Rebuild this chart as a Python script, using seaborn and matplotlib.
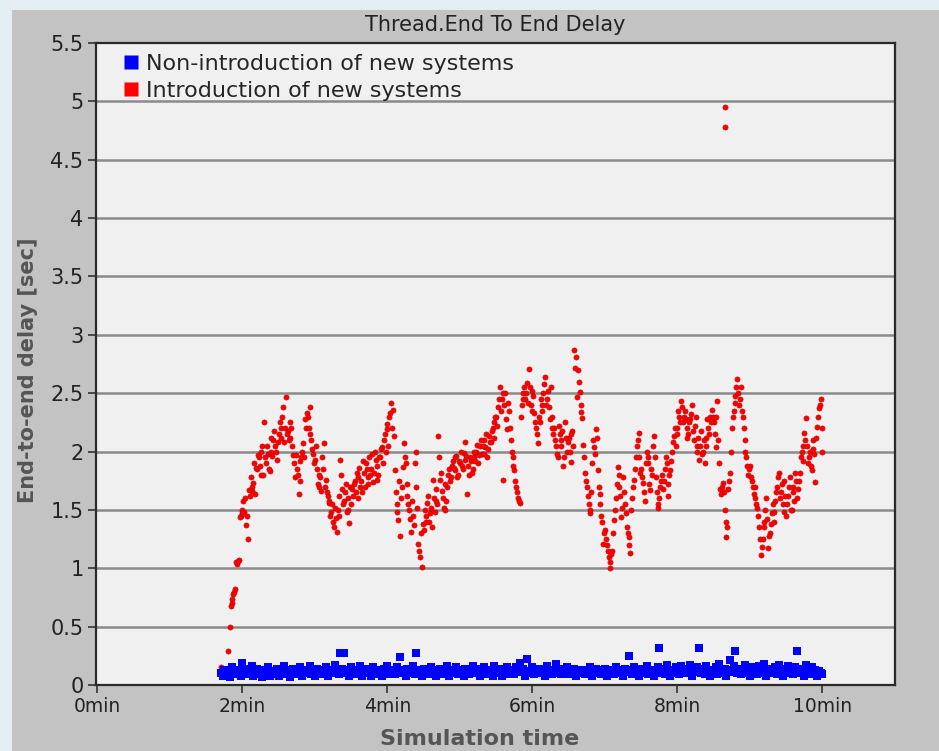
import matplotlib
matplotlib.use("Agg")
import matplotlib.pyplot as plt
from matplotlib.lines import Line2D
from matplotlib.patches import Rectangle
import numpy as np
import pandas as pd
import seaborn as sns

# sampling of the simulation trace (minutes)
sample_start = 1.70
sample_step = 0.025

# End-to-end delay [sec], introduction of new systems
red_delay = [
    0.15, 0.12, 0.12, 0.13, 0.29, 0.50, 0.70, 0.78,
    0.82, 1.04, 1.07, 1.45, 1.50, 1.48, 1.37, 1.25,
    1.62, 1.66, 1.73, 1.64, 1.85, 1.95, 1.80, 2.05,
    2.25, 1.90, 1.98, 1.83, 2.00, 2.10, 2.05, 1.93,
    2.15, 2.20, 2.30, 2.08, 2.47, 2.18, 2.12, 2.20,
    1.97, 1.78, 1.85, 1.64, 1.92, 2.00, 1.95, 2.20,
    2.30, 2.38, 2.10, 1.98, 1.93, 1.85, 1.70, 1.78,
    1.95, 2.07, 1.76, 1.62, 1.56, 1.48, 1.40, 1.52,
    1.31, 1.45, 1.93, 1.68, 1.58, 1.72, 1.50, 1.39,
    1.55, 1.62, 1.75, 1.82, 1.60, 1.70, 1.65, 1.82,
    1.90, 1.78, 1.95, 1.85, 1.74, 2.00, 1.88, 1.80,
    1.95, 2.04, 2.10, 2.00, 2.19, 2.30, 2.42, 2.36,
    1.84, 1.55, 1.41, 1.28, 1.70, 2.07, 1.90, 1.62,
    1.50, 1.31, 1.45, 1.90, 2.00, 1.21, 1.10, 1.01,
    1.33, 1.45, 1.56, 1.40, 1.52, 1.76, 1.48, 1.58,
    2.13, 1.76, 1.66, 1.52, 1.50, 1.70, 1.85, 1.78,
    1.92, 1.84, 1.96, 1.80, 1.90, 1.88, 1.99, 2.08,
    1.64, 1.80, 1.92, 1.85, 1.95, 2.00, 1.90, 2.05,
    1.98, 2.10, 2.04, 1.95, 2.13, 2.08, 2.20, 2.25,
    2.30, 2.38, 2.55, 2.45, 1.76, 2.50, 2.19, 2.35,
    2.10, 1.95, 1.84, 1.70, 1.60, 1.56, 2.40, 2.50,
    2.45, 2.59, 2.71, 2.40, 2.52, 2.33, 2.20, 2.07,
    2.25, 2.40, 2.50, 2.64, 2.45, 2.38, 2.55, 2.30,
    2.20, 2.05, 1.95, 2.15, 2.10, 1.88, 2.25, 2.00,
    2.12, 1.91, 2.18, 2.87, 2.81, 2.70, 2.51, 2.34,
    2.06, 1.82, 1.70, 1.55, 1.47, 1.90, 2.04, 2.19,
    1.84, 1.64, 1.45, 1.21, 1.33, 1.20, 1.10, 1.00,
    1.15, 1.41, 1.60, 1.87, 1.70, 1.44, 1.78, 1.55,
    1.35, 1.27, 1.13, 1.60, 1.76, 1.95, 2.10, 2.16,
    1.85, 1.73, 1.58, 2.00, 1.90, 1.67, 1.80, 2.13,
    1.78, 1.52, 1.60, 1.75, 1.68, 1.85, 1.90, 1.62,
    1.84, 2.00, 2.13, 2.05, 2.20, 2.30, 2.43, 2.25,
    2.35, 2.20, 2.15, 2.28, 2.40, 2.10, 2.30, 2.05,
    1.93, 2.18, 2.00, 1.90, 2.12, 2.20, 2.30, 2.36,
    2.25, 2.04, 2.43, 1.90, 1.64, 1.73, 1.50, 1.27,
    1.68, 1.82, 2.20, 2.35, 2.48, 2.62, 2.40, 2.55,
    2.30, 2.10, 1.95, 1.80, 1.88, 1.75, 1.64, 1.70,
    1.52, 1.35, 1.11, 1.25, 1.40, 1.60, 1.17, 1.30,
    1.47, 1.40, 1.58, 1.70, 1.82, 1.65, 1.55, 1.75,
    1.45, 1.62, 1.78, 1.50, 1.70, 1.82, 1.60, 1.75,
    1.95, 2.05, 2.16, 2.29, 1.90, 2.00, 1.84, 2.10,
    1.74, 2.21, 2.37, 2.45, 2.00,
]
# second trace of the same run, sampled half a step later
red_delay_mid = [
    0.13, 0.12, 0.14, 0.12, 0.14, 0.68, 0.74, 0.80,
    1.05, 1.06, 1.44, 1.47, 1.58, 1.60, 1.45, 1.67,
    1.78, 1.70, 1.90, 1.86, 1.97, 1.88, 2.00, 1.80,
    1.95, 2.05, 1.85, 2.12, 1.96, 2.18, 2.00, 2.08,
    2.25, 2.12, 2.38, 2.20, 2.15, 2.10, 2.25, 2.05,
    1.90, 1.97, 1.80, 1.75, 1.95, 2.07, 2.28, 2.33,
    2.20, 2.15, 2.02, 1.90, 2.05, 1.72, 1.80, 1.66,
    1.85, 1.70, 1.65, 1.58, 1.45, 1.55, 1.35, 1.43,
    1.50, 1.62, 1.80, 1.55, 1.65, 1.48, 1.60, 1.70,
    1.68, 1.72, 1.65, 1.78, 1.86, 1.75, 1.92, 1.70,
    1.85, 1.72, 1.80, 1.98, 1.82, 1.93, 1.76, 1.95,
    2.02, 1.90, 2.15, 2.24, 2.05, 2.33, 2.20, 2.13,
    1.65, 1.48, 1.75, 1.60, 1.87, 1.95, 1.72, 1.55,
    1.42, 1.58, 1.37, 1.70, 1.52, 1.15, 1.30, 1.38,
    1.50, 1.40, 1.62, 1.47, 1.35, 1.60, 1.68, 1.55,
    1.95, 1.82, 1.60, 1.72, 1.58, 1.80, 1.75, 1.88,
    1.86, 1.95, 1.78, 1.92, 2.00, 1.85, 1.93, 1.96,
    1.88, 1.95, 1.82, 2.00, 1.92, 2.06, 1.97, 2.10,
    2.05, 1.98, 2.15, 2.02, 2.08, 2.18, 2.12, 2.30,
    2.22, 2.45, 2.35, 2.50, 2.40, 2.28, 2.42, 2.20,
    2.00, 1.88, 1.75, 1.65, 1.58, 2.30, 2.45, 2.55,
    2.50, 2.42, 2.55, 2.35, 2.48, 2.25, 2.15, 2.30,
    2.45, 2.35, 2.58, 2.40, 2.52, 2.28, 2.20, 2.15,
    2.10, 1.98, 2.22, 2.05, 2.18, 1.95, 2.12, 2.08,
    2.00, 2.15, 2.05, 2.72, 2.47, 2.60, 2.40, 2.29,
    1.95, 1.75, 1.62, 1.50, 1.65, 2.10, 1.98, 2.12,
    1.70, 1.55, 1.40, 1.30, 1.25, 1.15, 1.05, 1.12,
    1.30, 1.50, 1.72, 1.80, 1.62, 1.52, 1.65, 1.47,
    1.30, 1.20, 1.50, 1.70, 1.85, 2.05, 1.95, 1.82,
    1.78, 1.65, 1.90, 1.95, 1.72, 1.85, 2.05, 1.95,
    1.65, 1.55, 1.70, 1.80, 1.75, 1.95, 1.72, 1.80,
    1.92, 2.08, 2.20, 2.15, 2.35, 2.25, 2.38, 2.30,
    2.28, 2.12, 2.25, 2.32, 2.18, 2.22, 2.00, 2.12,
    2.05, 1.98, 2.10, 2.05, 2.28, 2.15, 2.25, 2.30,
    2.15, 2.30, 2.10, 1.68, 1.70, 1.65, 1.40, 1.35,
    1.75, 2.00, 2.30, 2.42, 2.55, 2.50, 2.45, 2.35,
    2.20, 2.00, 1.88, 1.85, 1.78, 1.70, 1.60, 1.55,
    1.45, 1.25, 1.18, 1.35, 1.50, 1.42, 1.28, 1.38,
    1.55, 1.48, 1.65, 1.78, 1.60, 1.72, 1.48, 1.62,
    1.55, 1.70, 1.50, 1.65, 1.58, 1.75, 1.68, 1.82,
    2.00, 1.92, 2.10, 2.05, 1.95, 1.88, 2.02, 1.98,
    2.12, 2.30, 2.40, 2.20,
]
# two isolated spikes near 8.65 min
red_spike_time = [8.65, 8.65]
red_spike_delay = [4.95, 4.78]

# End-to-end delay [sec], non-introduction of new systems
blue_delay = [
    0.10, 0.08, 0.13, 0.09, 0.12, 0.07, 0.15, 0.10,
    0.09, 0.13, 0.11, 0.08, 0.19, 0.12, 0.09, 0.14,
    0.10, 0.16, 0.08, 0.12, 0.14, 0.09, 0.11, 0.07,
    0.13, 0.10, 0.15, 0.08, 0.12, 0.11, 0.09, 0.14,
    0.08, 0.12, 0.10, 0.16, 0.09, 0.13, 0.07, 0.11,
    0.14, 0.09, 0.12, 0.10, 0.15, 0.08, 0.13, 0.10,
    0.11, 0.16, 0.09, 0.12, 0.08, 0.14, 0.10, 0.13,
    0.09, 0.12, 0.15, 0.08, 0.11, 0.13, 0.10, 0.17,
    0.12, 0.09, 0.27, 0.14, 0.27, 0.10, 0.13, 0.08,
    0.15, 0.11, 0.09, 0.13, 0.10, 0.16, 0.08, 0.12,
    0.10, 0.14, 0.12, 0.08, 0.15, 0.11, 0.09, 0.13,
    0.12, 0.08, 0.14, 0.10, 0.16, 0.09, 0.13, 0.11,
    0.09, 0.15, 0.11, 0.24, 0.10, 0.13, 0.08, 0.14,
    0.12, 0.10, 0.16, 0.09, 0.27, 0.13, 0.11, 0.08,
    0.14, 0.10, 0.12, 0.09, 0.15, 0.11, 0.13, 0.08,
    0.11, 0.14, 0.09, 0.12, 0.10, 0.16, 0.08, 0.13,
    0.10, 0.12, 0.15, 0.09, 0.13, 0.11, 0.08, 0.14,
    0.13, 0.09, 0.11, 0.16, 0.10, 0.12, 0.14, 0.08,
    0.11, 0.15, 0.09, 0.13, 0.10, 0.12, 0.08, 0.16,
    0.12, 0.10, 0.14, 0.08, 0.13, 0.11, 0.15, 0.09,
    0.10, 0.13, 0.09, 0.15, 0.12, 0.19, 0.11, 0.14,
    0.08, 0.22, 0.12, 0.10, 0.15, 0.09, 0.13, 0.11,
    0.14, 0.10, 0.12, 0.08, 0.16, 0.11, 0.13, 0.09,
    0.12, 0.18, 0.10, 0.14, 0.09, 0.13, 0.11, 0.15,
    0.09, 0.12, 0.10, 0.14, 0.08, 0.13, 0.11, 0.10,
    0.13, 0.09, 0.12, 0.10, 0.15, 0.08, 0.11, 0.14,
    0.10, 0.13, 0.09, 0.12, 0.14, 0.08, 0.11, 0.13,
    0.12, 0.09, 0.15, 0.10, 0.13, 0.11, 0.08, 0.14,
    0.11, 0.25, 0.13, 0.09, 0.15, 0.10, 0.12, 0.08,
    0.14, 0.10, 0.12, 0.16, 0.09, 0.13, 0.11, 0.08,
    0.12, 0.15, 0.32, 0.10, 0.14, 0.09, 0.17, 0.11,
    0.08, 0.13, 0.10, 0.15, 0.12, 0.09, 0.16, 0.11,
    0.14, 0.10, 0.12, 0.17, 0.08, 0.13, 0.11, 0.15,
    0.32, 0.10, 0.14, 0.09, 0.16, 0.12, 0.08, 0.13,
    0.11, 0.15, 0.09, 0.18, 0.12, 0.10, 0.14, 0.08,
    0.13, 0.21, 0.11, 0.16, 0.29, 0.10, 0.14, 0.09,
    0.12, 0.17, 0.10, 0.14, 0.08, 0.15, 0.11, 0.13,
    0.09, 0.16, 0.12, 0.10, 0.18, 0.08, 0.14, 0.11,
    0.13, 0.10, 0.15, 0.09, 0.17, 0.12, 0.08, 0.14,
    0.11, 0.16, 0.10, 0.13, 0.09, 0.15, 0.29, 0.12,
    0.10, 0.14, 0.08, 0.17, 0.12, 0.09, 0.15, 0.11,
    0.13, 0.08, 0.12, 0.10, 0.09,
]

series_names = ["Non-introduction of new systems", "Introduction of new systems"]
series_colors = ["#0000ff", "#ff0000"]
x_ticks = [0, 2, 4, 6, 8, 10]
y_ticks = [0, 0.5, 1, 1.5, 2, 2.5, 3, 3.5, 4, 4.5, 5, 5.5]

red_time = sample_start + sample_step * np.arange(len(red_delay))
red_time_mid = sample_start + sample_step / 2 + sample_step * np.arange(len(red_delay_mid))
blue_time = sample_start + sample_step * np.arange(len(blue_delay))
df_red = pd.DataFrame({"time": np.concatenate([red_time, red_time_mid, red_spike_time]),
                       "delay": red_delay + red_delay_mid + red_spike_delay})
df_blue = pd.DataFrame({"time": blue_time, "delay": blue_delay})

sns.set_style("white")
plt.rcParams["font.family"] = ["DejaVu Sans"]

fig = plt.figure(figsize=(9.39, 7.51), dpi=100, facecolor="#e3edf2")
fig.patches.append(Rectangle((12 / 939, 0), 1, 741 / 751, transform=fig.transFigure,
                             facecolor="#c3c3c3", edgecolor="none", zorder=-10))
ax = fig.add_axes([96 / 939, 66 / 751, 799 / 939, 642 / 751])
ax.set_zorder(1)
ax.set_facecolor("#f0f0f0")

for y in y_ticks[1:-1]:
    ax.axhline(y, color="#8a8a8a", lw=1.8, zorder=1)

sns.scatterplot(data=df_red, x="time", y="delay", ax=ax, marker="o", s=14,
                color=series_colors[1], edgecolor="#c40000", linewidth=0.4, zorder=3)
sns.scatterplot(data=df_blue, x="time", y="delay", ax=ax, marker="s", s=30,
                color=series_colors[0], linewidth=0, zorder=4)

ax.set_xlim(0 - 0.02, 11)
ax.set_ylim(0, 5.5)
ax.set_xticks(x_ticks)
ax.set_xticklabels([f"{t}min" for t in x_ticks], fontsize=13.5, color="#222222")
ax.set_yticks(y_ticks)
ax.set_yticklabels([f"{v:g}" for v in y_ticks], fontsize=15, color="#222222")
ax.tick_params(direction="out", length=6, width=1.2, color="#333333", pad=3,
               left=True, bottom=True)
for sp in ax.spines.values():
    sp.set_color("#2a2a2a")
    sp.set_linewidth(1.6)

ax.set_xlabel("Simulation time", fontsize=16, fontweight="bold", color="#555555")
ax.xaxis.set_label_coords(0.48, -0.068)
ax.set_ylabel("End-to-end delay [sec]", fontsize=15, fontweight="bold", color="#555555")
ax.yaxis.set_label_coords(-0.073, 0.49)
fig.text(495 / 939, 1 - 25 / 751, "Thread.End To End Delay", ha="center", va="center",
         fontsize=15, color="#222222")

handles = [Line2D([0], [0], marker="s", linestyle="none", markersize=9.5,
                  markerfacecolor=c, markeredgecolor="none") for c in series_colors]
ax.legend(handles, series_names, loc="upper left", bbox_to_anchor=(0.02, 1.0),
          frameon=False, fontsize=16, handlelength=0.7, handletextpad=0.35,
          labelspacing=0.3, borderaxespad=0.1)

fig.savefig("out.png", dpi=100, facecolor=fig.get_facecolor())
